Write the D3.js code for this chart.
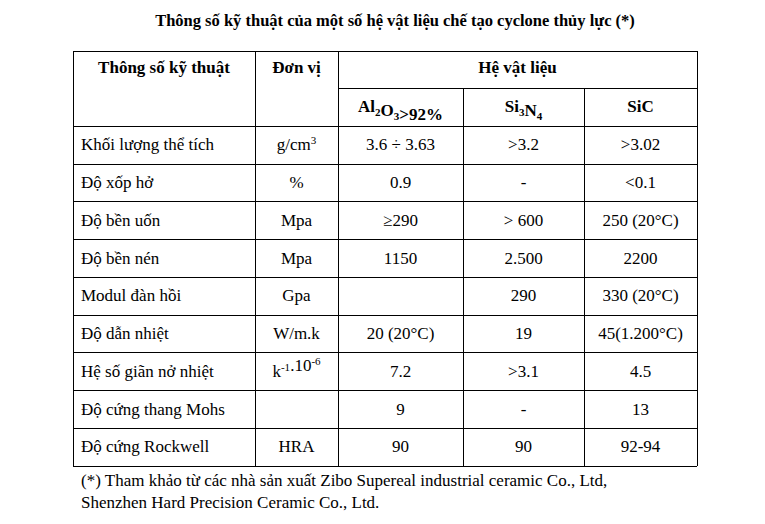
<!DOCTYPE html><html><head><meta charset="utf-8"><script src="https://cdn.jsdelivr.net/npm/d3@7"></script>
<style>body{margin:0;background:#fff}text{font-family:"Liberation Serif","Times New Roman",serif;fill:#000}</style></head><body><svg id="c" width="765" height="524"></svg>
<script>
const title="Thông số kỹ thuật của một số hệ vật liệu chế tạo cyclone thủy lực (*)";
const headers=["Thông số kỹ thuật","Đơn vị","Hệ vật liệu"];
const materials=[[["Al",""],["2","sub"],["O",""],["3","sub"],[">92%",""]],[["Si",""],["3","sub"],["N",""],["4","sub"]],[["SiC",""]]];
const params=["Khối lượng thể tích","Độ xốp hở","Độ bền uốn","Độ bền nén","Modul đàn hồi","Độ dẫn nhiệt","Hệ số giãn nở nhiệt","Độ cứng thang Mohs","Độ cứng Rockwell"];
const units=[[["g/cm",""],["3","sup"]],[["%",""]],[["Mpa",""]],[["Mpa",""]],[["Gpa",""]],[["W/m.k",""]],[["k",""],["-1","sup"],[".10",""],["-6","sup"]],[],[["HRA",""]]];
const al2o3=["3.6 ÷ 3.63","0.9","≥290","1150","","20 (20°C)","7.2","9","90"];
const si3n4=[">3.2","-","> 600","2.500","290","19",">3.1","-","90"];
const sic=[">3.02","<0.1","250 (20°C)","2200","330 (20°C)","45(1.200°C)","4.5","13","92-94"];
const footnote=["(*) Tham khảo từ các nhà sản xuất Zibo Supereal industrial ceramic Co., Ltd,","Shenzhen Hard Precision Ceramic Co., Ltd."];

const svg=d3.select("#c");
const colEdges=[73,255,338,463,584,697];
const x=d3.scaleOrdinal().domain(d3.range(6)).range(colEdges);
const rowY=d3.scaleLinear().domain([0,11]).range([51,466]);
svg.append("text").attr("x",395).attr("y",26).attr("text-anchor","middle").attr("font-weight","bold").attr("font-size",16.5).text(title);
const g=svg.append("g").attr("stroke","#000").attr("stroke-width",1);
function line(x1,y1,x2,y2){g.append("line").attr("x1",x1).attr("y1",y1).attr("x2",x2).attr("y2",y2).attr("shape-rendering","crispEdges");}
// outer + grid
line(x(0),rowY(0),x(5),rowY(0));
line(x(2),rowY(1),x(5),rowY(1));
for(let r=2;r<=11;r++)line(x(0),rowY(r),x(5),rowY(r));
line(x(0),rowY(0),x(0),rowY(11));line(x(1),rowY(0),x(1),rowY(11));line(x(2),rowY(0),x(2),rowY(11));
line(x(3),rowY(1),x(3),rowY(11));line(x(4),rowY(1),x(4),rowY(11));line(x(5),rowY(0),x(5),rowY(11));
function rich(t,parts,fs){parts.forEach(([s,k])=>{const ts=t.append("tspan").text(s);if(k=="sub")ts.attr("font-size",fs*0.65).attr("dy",4);else if(k=="sup")ts.attr("font-size",fs*0.65).attr("dy",-6);else ts.attr("dy",0);
 if(k=="sub")t.append("tspan").attr("dy",-4).text("");if(k=="sup")t.append("tspan").attr("dy",6).text("");});}
const fs=17;
function cx(c){return (x(c)+x(c+1))/2;}
svg.append("text").attr("x",cx(0)).attr("y",rowY(0)+22).attr("text-anchor","middle").attr("font-weight","bold").attr("font-size",fs).text(headers[0]);
svg.append("text").attr("x",cx(1)).attr("y",rowY(0)+22).attr("text-anchor","middle").attr("font-weight","bold").attr("font-size",fs).text(headers[1]);
svg.append("text").attr("x",(x(2)+x(5))/2).attr("y",rowY(0)+22).attr("text-anchor","middle").attr("font-weight","bold").attr("font-size",fs).text(headers[2]);
materials.forEach((m,i)=>{const t=svg.append("text").attr("x",cx(2+i)).attr("y",rowY(1)+23).attr("text-anchor","middle").attr("font-weight","bold").attr("font-size",fs);rich(t,m,fs);});
params.forEach((p,i)=>{const y=rowY(2+i)+24;
 svg.append("text").attr("x",x(0)+8).attr("y",y).attr("font-size",fs).text(p);
 const u=svg.append("text").attr("x",cx(1)).attr("y",y).attr("text-anchor","middle").attr("font-size",fs);rich(u,units[i],fs);
 [al2o3,si3n4,sic].forEach((arr,j)=>svg.append("text").attr("x",cx(2+j)).attr("y",y).attr("text-anchor","middle").attr("font-size",fs).text(arr[i]));
});
footnote.forEach((f,i)=>svg.append("text").attr("x",x(0)+8).attr("y",486+i*22).attr("font-size",fs).text(f));
</script></body></html>
